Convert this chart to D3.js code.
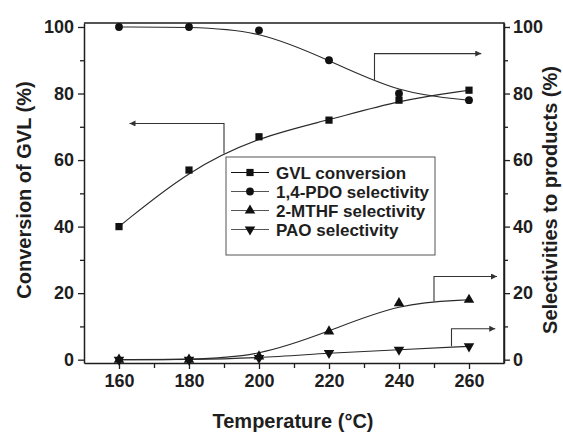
<!DOCTYPE html>
<html>
<head>
<meta charset="utf-8">
<script src="https://cdn.jsdelivr.net/npm/d3@7"></script>
<style>
  body { margin: 0; background: #fff; }
  svg { display: block; font-family: "Liberation Sans", Arial, sans-serif; }
</style>
</head>
<body>
<svg id="chart" width="563" height="433"></svg>
<script>
// GVL conversion and product selectivities vs temperature
const temps = [160, 180, 200, 220, 240, 260];
const gvlConversion = [40, 57, 67, 72, 78, 81];
const pdoSelectivity = [100, 100, 99, 90, 80, 78];
const mthfSelectivity = [0, 0, 1, 8.5, 17, 18];
const paoSelectivity = [0, 0, 0.5, 2, 3, 4];

const xMajorTicks = [160, 180, 200, 220, 240, 260];
const xMinorTicks = [170, 190, 210, 230, 250];
const yMajorTicks = [0, 20, 40, 60, 80, 100];
const yMinorTicks = [10, 30, 50, 70, 90];

const seriesNames = ["GVL conversion", "1,4-PDO selectivity", "2-MTHF selectivity", "PAO selectivity"];
const seriesValues = [gvlConversion, pdoSelectivity, mthfSelectivity, paoSelectivity];
const seriesSymbols = ["square", "circle", "up", "down"];

// arrows: [x corner, y start on curve, y corner, x tip]  (data units)
const arrows = [
  [190, 62, 71, 163],
  [233, 84, 92, 263.5],
  [250, 17.5, 25, 268],
  [255, 4, 9.3, 267.5]
];

const svg = d3.select("#chart");
const ink = "#1e1e1e";

const x = d3.scaleLinear().domain([150, 270]).range([84, 504]);
const y = d3.scaleLinear().domain([-1, 101.2]).range([363, 23]);

// arrow marker
svg.append("defs")
  .append("marker")
  .attr("id", "head")
  .attr("viewBox", "0 0 10 10")
  .attr("refX", 10)
  .attr("refY", 5)
  .attr("markerWidth", 9)
  .attr("markerHeight", 6)
  .attr("markerUnits", "userSpaceOnUse")
  .attr("orient", "auto")
  .append("path")
  .attr("d", "M0,0L10,5L0,10z")
  .attr("fill", "#333");

// frame (top + right)
svg.append("path")
  .attr("d", `M${x(150)},${y(101.2)}H${x(270)}V${y(-1)}`)
  .attr("fill", "none")
  .attr("stroke", ink)
  .attr("stroke-width", 1.5);

const styleAxis = (g, size) => {
  g.select(".domain").attr("stroke", ink).attr("stroke-width", 1.5);
  g.selectAll(".tick line").attr("stroke", ink).attr("stroke-width", 1.3);
  g.selectAll(".tick text")
    .attr("fill", ink)
    .attr("font-size", size)
    .attr("font-weight", "bold")
    .attr("font-family", "'Liberation Sans', Arial, sans-serif");
};

// bottom axis
const xg = svg.append("g")
  .attr("transform", `translate(0,${y(-1)})`)
  .call(d3.axisBottom(x).tickValues(xMajorTicks).tickSize(6).tickSizeOuter(0).tickPadding(5));
styleAxis(xg, 18);
svg.append("g")
  .attr("transform", `translate(0,${y(-1)})`)
  .call(d3.axisBottom(x).tickValues(xMinorTicks).tickSize(5).tickFormat(""))
  .call(g => g.select(".domain").remove())
  .call(g => styleAxis(g, 18));

// left axis
const yl = svg.append("g")
  .attr("transform", `translate(${x(150)},0)`)
  .call(d3.axisLeft(y).tickValues(yMajorTicks).tickSize(6).tickSizeOuter(0).tickPadding(4));
styleAxis(yl, 18);
svg.append("g")
  .attr("transform", `translate(${x(150)},0)`)
  .call(d3.axisLeft(y).tickValues(yMinorTicks).tickSize(4).tickFormat(""))
  .call(g => g.select(".domain").remove())
  .call(g => styleAxis(g, 18));

// right axis
const yr = svg.append("g")
  .attr("transform", `translate(${x(270)},0)`)
  .call(d3.axisRight(y).tickValues(yMajorTicks).tickSize(6).tickSizeOuter(0).tickPadding(3));
styleAxis(yr, 18);
svg.append("g")
  .attr("transform", `translate(${x(270)},0)`)
  .call(d3.axisRight(y).tickValues(yMinorTicks).tickSize(4).tickFormat(""))
  .call(g => g.select(".domain").remove())
  .call(g => styleAxis(g, 18));

// axis titles
svg.append("text")
  .attr("transform", `translate(31,190) rotate(-90)`)
  .attr("text-anchor", "middle")
  .attr("font-size", 20)
  .attr("font-weight", "bold")
  .attr("fill", ink)
  .text("Conversion of GVL (%)");

svg.append("text")
  .attr("transform", `translate(557,200) rotate(-90)`)
  .attr("text-anchor", "middle")
  .attr("font-size", 20)
  .attr("font-weight", "bold")
  .attr("fill", ink)
  .text("Selectivities to products (%)");

svg.append("text")
  .attr("x", 293)
  .attr("y", 428)
  .attr("text-anchor", "middle")
  .attr("font-size", 20)
  .attr("font-weight", "bold")
  .attr("fill", ink)
  .text("Temperature (°C)");

// symbols
const symbolPath = (kind) => {
  if (kind === "square") return d3.symbol(d3.symbolSquare, 52)();
  if (kind === "circle") return d3.symbol(d3.symbolCircle, 48)();
  return d3.symbol(d3.symbolTriangle, 48)();
};
const symbolRotate = kind => (kind === "down" ? " rotate(180)" : "");

// fitted curves + markers
const line = d3.line()
  .x((d, i) => x(temps[i]))
  .y(d => y(d))
  .curve(d3.curveBasis);

const plot = svg.append("g");
seriesValues.forEach((values, s) => {
  plot.append("path")
    .datum(values)
    .attr("fill", "none")
    .attr("stroke", "#2a2a2a")
    .attr("stroke-width", 1.1)
    .attr("d", line);
});
seriesValues.forEach((values, s) => {
  plot.selectAll(null)
    .data(values)
    .enter()
    .append("path")
    .attr("d", symbolPath(seriesSymbols[s]))
    .attr("transform", (d, i) => `translate(${x(temps[i])},${y(d)})${symbolRotate(seriesSymbols[s])}`)
    .attr("fill", "#111");
});

// arrows
arrows.forEach(([ax, y0, y1, tip]) => {
  svg.append("path")
    .attr("d", `M${x(ax)},${y(y0)}V${y(y1)}H${x(tip)}`)
    .attr("fill", "none")
    .attr("stroke", "#333")
    .attr("stroke-width", 1.1)
    .attr("marker-end", "url(#head)");
});

// legend
const legend = svg.append("g").attr("transform", "translate(226,157)");
legend.append("rect")
  .attr("width", 209)
  .attr("height", 98)
  .attr("fill", "#fff")
  .attr("stroke", "#555")
  .attr("stroke-width", 1);

const rows = legend.selectAll(".row")
  .data(seriesNames)
  .enter()
  .append("g")
  .attr("transform", (d, i) => `translate(0,${15.5 + i * 19})`);

rows.append("line")
  .attr("x1", 5)
  .attr("x2", 43)
  .attr("stroke", (d, i) => (i === 0 ? "#111" : "#555"))
  .attr("stroke-width", 1.1);

rows.append("path")
  .attr("d", (d, i) => symbolPath(seriesSymbols[i]))
  .attr("transform", (d, i) => `translate(24,0)${symbolRotate(seriesSymbols[i])}`)
  .attr("fill", "#111");

rows.append("text")
  .attr("x", 50)
  .attr("y", 6)
  .attr("font-size", 17)
  .attr("font-weight", "bold")
  .attr("fill", ink)
  .text(d => d);
</script>
</body>
</html>
